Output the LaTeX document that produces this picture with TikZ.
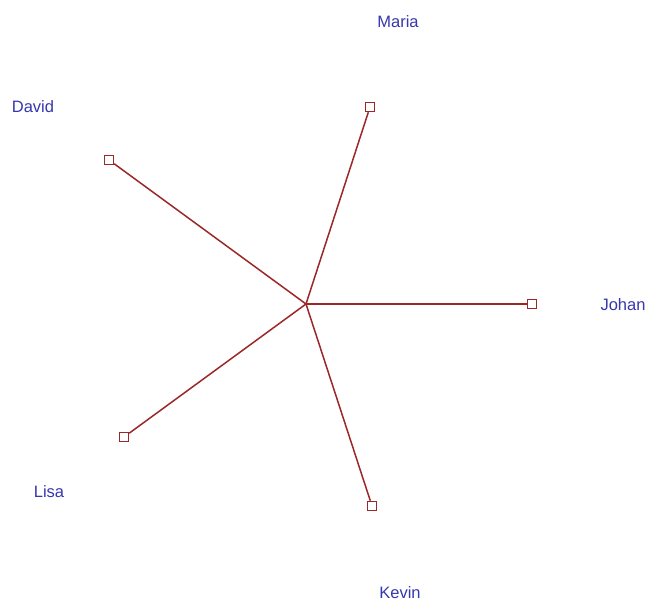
\documentclass[tikz,border=0pt]{standalone}
\usepackage{fontspec}
\setmainfont{Liberation Sans}
\definecolor{lab}{RGB}{55,55,175}
\definecolor{edge}{RGB}{155,40,40}
\begin{document}
\begin{tikzpicture}[x=1pt,y=-1pt,
  lbl/.style={text=lab,font=\fontsize{16.5}{16.5}\selectfont,inner sep=0pt},
  sq/.style={draw=edge,fill=white,line width=1.4pt,minimum size=9pt,inner sep=0pt},
  con/.style={draw=edge,line width=1.5pt}]
\useasboundingbox[fill=white] (0,0) rectangle (649,604);
\coordinate (c) at (306,304);
\node[sq] (maria) at (370,107) {};
\node[sq] (david) at (109,160) {};
\node[sq] (johan) at (532,304) {};
\node[sq] (lisa) at (124,437) {};
\node[sq] (kevin) at (372,506) {};
\draw[con] (c) -- (maria);
\draw[con] (c) -- (david);
\draw[con] (c) -- (johan);
\draw[con] (c) -- (lisa);
\draw[con] (c) -- (kevin);
\node[lbl] (lmaria) at (398,22) {Maria};
\node[lbl] (ldavid) at (33,107) {David};
\node[lbl] (ljohan) at (623,305) {Johan};
\node[lbl] (llisa) at (49,492) {Lisa};
\node[lbl] (lkevin) at (400,593) {Kevin};
\end{tikzpicture}
\end{document}
